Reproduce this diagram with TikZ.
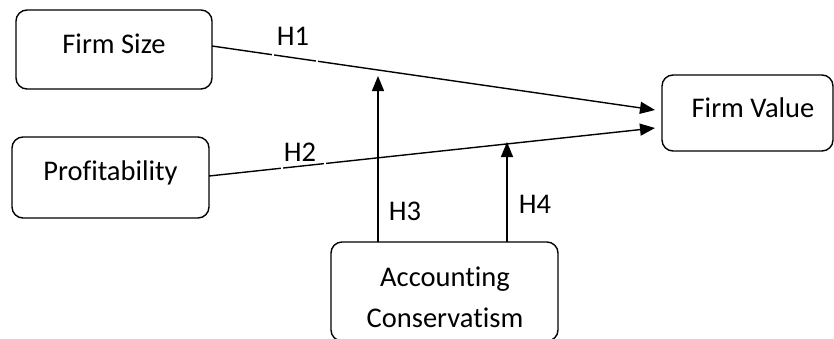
\documentclass[tikz,border=0pt]{standalone}
\usepackage{fontspec}
\setmainfont{Carlito}[RawFeature={-liga}]
\usetikzlibrary{arrows.meta}
\begin{document}
\begin{tikzpicture}[x=1pt,y=-1pt,
  box/.style={draw=black,line width=1.4pt,rounded corners=11pt,inner sep=0pt,outer sep=0pt},
  txt/.style={anchor=base,inner sep=0pt,font=\fontsize{28.5}{34}\selectfont},
  conn/.style={draw=black,line width=1.4pt,-{Triangle[length=15pt,width=12pt]}},
  gapbox/.style={draw=white,line width=2.5pt,inner sep=0pt,minimum height=50pt}]
\useasboundingbox (0,0) rectangle (834,338);
% boxes
\node[box,minimum width=196pt,minimum height=79pt] (fs) at (114,49.5) {};
\node[box,minimum width=197pt,minimum height=81pt] (pr) at (110.5,177.5) {};
\node[box,minimum width=171pt,minimum height=76pt] (fv) at (747.5,113) {};
\node[box,minimum width=227pt,minimum height=99pt] (ac) at (444.5,291.5) {};
% texts
\node[txt] (fst) at (114,53) {Firm Size};
\node[txt] (prt) at (110.5,180) {Profitability};
\node[txt] (fvt) at (753,117) {Firm Value};
\node[txt] (act1) at (445,286) {Accounting};
\node[txt] (act2) at (445,327) {Conservatism};
% free ends of the moderating arrows
\coordinate (h3tip) at (378,76);
\coordinate (h4tip) at (507,142);
% connectors
\draw[conn] ([yshift=3.5pt]fs.east) -- ([xshift=-7pt,yshift=3pt]fv.west);
\draw[conn] ([yshift=1.5pt]pr.east) -- ([xshift=-7pt,yshift=-15pt]fv.west);
\draw[conn] (ac.north -| h3tip) -- (h3tip);
\draw[conn] (ac.north -| h4tip) -- (h4tip);
% label boxes (white edges break the lines)
\node[gapbox,minimum width=44pt] (g1) at (295,42) {};
\node[gapbox,minimum width=43pt] (g2) at (303.5,160) {};
% labels
\node[txt] (h1) at (293,45) {H1};
\node[txt] (h2) at (300,161) {H2};
\node[txt] (h3) at (405,220) {H3};
\node[txt] (h4) at (535,213) {H4};
\end{tikzpicture}
\end{document}
